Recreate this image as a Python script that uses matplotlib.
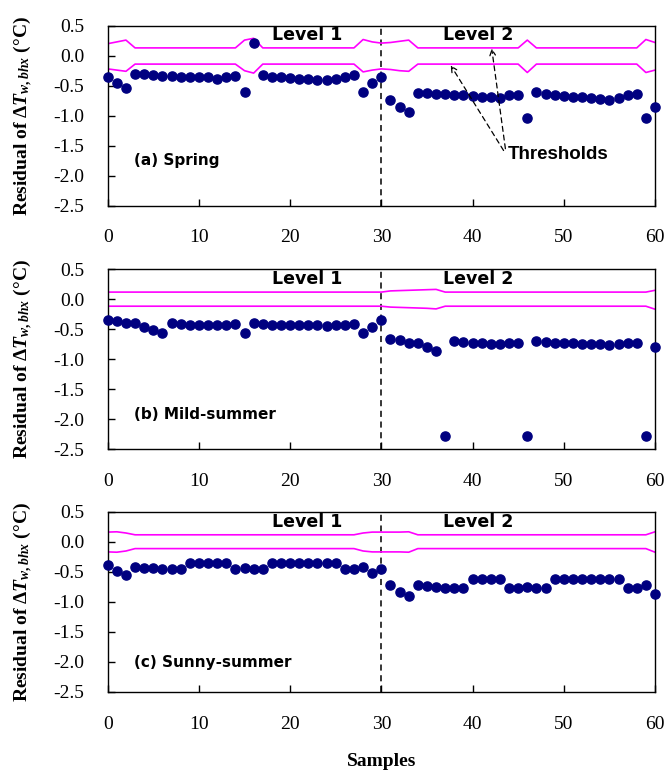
import matplotlib
matplotlib.use("Agg")
import matplotlib.pyplot as plt
import numpy as np

plt.rcParams['axes.unicode_minus'] = False
plt.rcParams['mathtext.fontset'] = 'custom'
plt.rcParams['mathtext.it'] = 'Liberation Serif:italic:bold'
plt.rcParams['mathtext.rm'] = 'Liberation Serif:bold'
plt.rcParams['mathtext.bf'] = 'Liberation Serif:bold'

samples = list(range(61))

# ---- (a) Spring ----
spring_res = [-0.36, -0.46, -0.53, -0.31, -0.31, -0.32, -0.33, -0.34, -0.35, -0.35,
              -0.36, -0.36, -0.38, -0.35, -0.33, -0.60, 0.22, -0.32, -0.35, -0.36,
              -0.37, -0.38, -0.39, -0.40, -0.41, -0.39, -0.36, -0.32, -0.60, -0.46,
              -0.36, -0.74, -0.85, -0.94, -0.62, -0.62, -0.63, -0.64, -0.65, -0.66,
              -0.67, -0.68, -0.69, -0.70, -0.66, -0.65, -1.03, -0.61, -0.64, -0.66,
              -0.67, -0.68, -0.69, -0.70, -0.72, -0.74, -0.70, -0.66, -0.63, -1.03,
              -0.85]
spring_up = [0.20, 0.23, 0.26, 0.13, 0.13, 0.13, 0.13, 0.13, 0.13, 0.13,
             0.13, 0.13, 0.13, 0.13, 0.13, 0.26, 0.29, 0.13, 0.13, 0.13,
             0.13, 0.13, 0.13, 0.13, 0.13, 0.13, 0.13, 0.13, 0.27, 0.23,
             0.21, 0.22, 0.24, 0.26, 0.13, 0.13, 0.13, 0.13, 0.13, 0.13,
             0.13, 0.13, 0.13, 0.13, 0.13, 0.13, 0.26, 0.13, 0.13, 0.13,
             0.13, 0.13, 0.13, 0.13, 0.13, 0.13, 0.13, 0.13, 0.13, 0.27,
             0.22]
spring_lo = [-0.22, -0.24, -0.26, -0.14, -0.14, -0.14, -0.14, -0.14, -0.14, -0.14,
             -0.14, -0.14, -0.14, -0.14, -0.14, -0.25, -0.29, -0.14, -0.14, -0.14,
             -0.14, -0.14, -0.14, -0.14, -0.14, -0.14, -0.14, -0.14, -0.27, -0.24,
             -0.22, -0.23, -0.25, -0.26, -0.14, -0.14, -0.14, -0.14, -0.14, -0.14,
             -0.14, -0.14, -0.14, -0.14, -0.14, -0.14, -0.28, -0.14, -0.14, -0.14,
             -0.14, -0.14, -0.14, -0.14, -0.14, -0.14, -0.14, -0.14, -0.14, -0.28,
             -0.24]

# ---- (b) Mild-summer ----
mild_res = [-0.35, -0.36, -0.40, -0.40, -0.46, -0.51, -0.56, -0.40, -0.41, -0.42,
            -0.42, -0.43, -0.43, -0.42, -0.41, -0.56, -0.40, -0.41, -0.42, -0.42,
            -0.43, -0.43, -0.43, -0.43, -0.44, -0.43, -0.42, -0.41, -0.56, -0.46,
            -0.34, -0.66, -0.68, -0.72, -0.72, -0.80, -0.86, -2.28, -0.70, -0.71,
            -0.73, -0.73, -0.74, -0.75, -0.72, -0.72, -2.28, -0.70, -0.71, -0.72,
            -0.73, -0.73, -0.74, -0.75, -0.75, -0.76, -0.74, -0.73, -0.72, -2.28,
            -0.80]
mild_up = [0.12] * 31 + [0.14, 0.145, 0.15, 0.155, 0.16, 0.165] + [0.12] * 23 + [0.15]
mild_lo = [-0.115] * 31 + [-0.13, -0.135, -0.14, -0.145, -0.15, -0.16] + [-0.115] * 23 + [-0.165]

# ---- (c) Sunny-summer ----
sunny_res = [-0.39, -0.48, -0.55, -0.42, -0.43, -0.43, -0.45, -0.45, -0.45, -0.35,
             -0.35, -0.35, -0.35, -0.35, -0.45, -0.44, -0.45, -0.45, -0.35, -0.35,
             -0.35, -0.35, -0.35, -0.35, -0.35, -0.35, -0.45, -0.45, -0.42, -0.51,
             -0.45, -0.72, -0.83, -0.90, -0.72, -0.73, -0.75, -0.76, -0.77, -0.77,
             -0.62, -0.62, -0.62, -0.62, -0.77, -0.77, -0.75, -0.77, -0.77, -0.62,
             -0.62, -0.62, -0.62, -0.62, -0.62, -0.62, -0.62, -0.77, -0.77, -0.72,
             -0.86]
sunny_up = [0.165, 0.17, 0.15] + [0.12] * 25 + [0.15, 0.165, 0.165, 0.165, 0.165, 0.17] + [0.12] * 26 + [0.17]
sunny_lo = [-0.165, -0.17, -0.15] + [-0.11] * 25 + [-0.15, -0.165, -0.165, -0.165, -0.165, -0.17] + [-0.11] * 26 + [-0.17]

panel_labels = ["(a) Spring", "(b) Mild-summer", "(c) Sunny-summer"]
level_labels = ["Level 1", "Level 2"]
xticks = [0, 10, 20, 30, 40, 50, 60]
yticks = [0.5, 0.0, -0.5, -1.0, -1.5, -2.0, -2.5]

residuals = [spring_res, mild_res, sunny_res]
uppers = [spring_up, mild_up, sunny_up]
lowers = [spring_lo, mild_lo, sunny_lo]

W, H = 667, 774
fig = plt.figure(figsize=(W / 100, H / 100), dpi=100)

left = 107.7 / W
width = 547.3 / W
tops = [25.7, 269.3, 512.0]
ph = 180.0
label_y = [-1.75, -1.92, -2.0]

serif = 'Liberation Serif'
for i in range(3):
    bottom = 1 - (tops[i] + ph) / H
    ax = fig.add_axes([left, bottom, width, ph / H])
    ax.plot(samples, uppers[i], color='#FF00FF', lw=1.2, zorder=2)
    ax.plot(samples, lowers[i], color='#FF00FF', lw=1.2, zorder=2)
    ax.plot(samples, residuals[i], 'o', color='#000080', ms=6.6, mec='#000080', zorder=3,
            clip_on=False)
    ax.axvline(30, color='black', lw=1.1, ls=(0, (4, 3)), zorder=1)
    ax.set_xlim(0, 60)
    ax.set_ylim(-2.5, 0.5)
    ax.set_xticks(xticks)
    ax.set_yticks(yticks)
    ax.set_yticklabels([f"{v:.1f}" for v in yticks])
    ax.tick_params(direction='in', length=5, width=1, labelsize=14)
    ax.tick_params(axis='x', pad=17)
    ax.tick_params(axis='y', pad=17)
    for lab in ax.get_xticklabels() + ax.get_yticklabels():
        lab.set_fontfamily(serif)
    for s in ax.spines.values():
        s.set_linewidth(1.0)
        s.set_color('black')
    ax.text(21.9, 0.34, level_labels[0], fontsize=12.5, fontweight='bold',
            family='DejaVu Sans', ha='center', va='center')
    ax.text(40.6, 0.34, level_labels[1], fontsize=12.5, fontweight='bold',
            family='DejaVu Sans', ha='center', va='center')
    ax.text(2.9, label_y[i], panel_labels[i], fontsize=11, fontweight='bold',
            family='DejaVu Sans', ha='left', va='center')
    yc = 1 - (tops[i] + ph / 2) / H
    fig.text(23 / W, yc, r'Residual of $\mathit{\Delta T}_{w,bhx}$ (°C)', rotation=90,
             ha='center', va='center', fontsize=14, fontweight='bold', family=serif)
    if i == 0:
        ax.text(43.9, -1.65, "Thresholds", fontsize=13.5, family='Liberation Sans',
                fontweight='bold', ha='left', va='center')
        ap = dict(arrowstyle='->', linestyle=(0, (4, 3)), color='black', lw=0.9,
                  shrinkA=0, shrinkB=0)
        ax.annotate("", xy=(37.6, -0.16), xytext=(43.4, -1.58), arrowprops=ap)
        ax.annotate("", xy=(42.1, 0.12), xytext=(43.6, -1.55), arrowprops=ap)

fig.text(0.5 * (107.7 + 655) / W, 1 - 762 / H, "Samples", ha='center', va='center',
         fontsize=14, fontweight='bold', family=serif)

fig.savefig("out.png", dpi=100)
